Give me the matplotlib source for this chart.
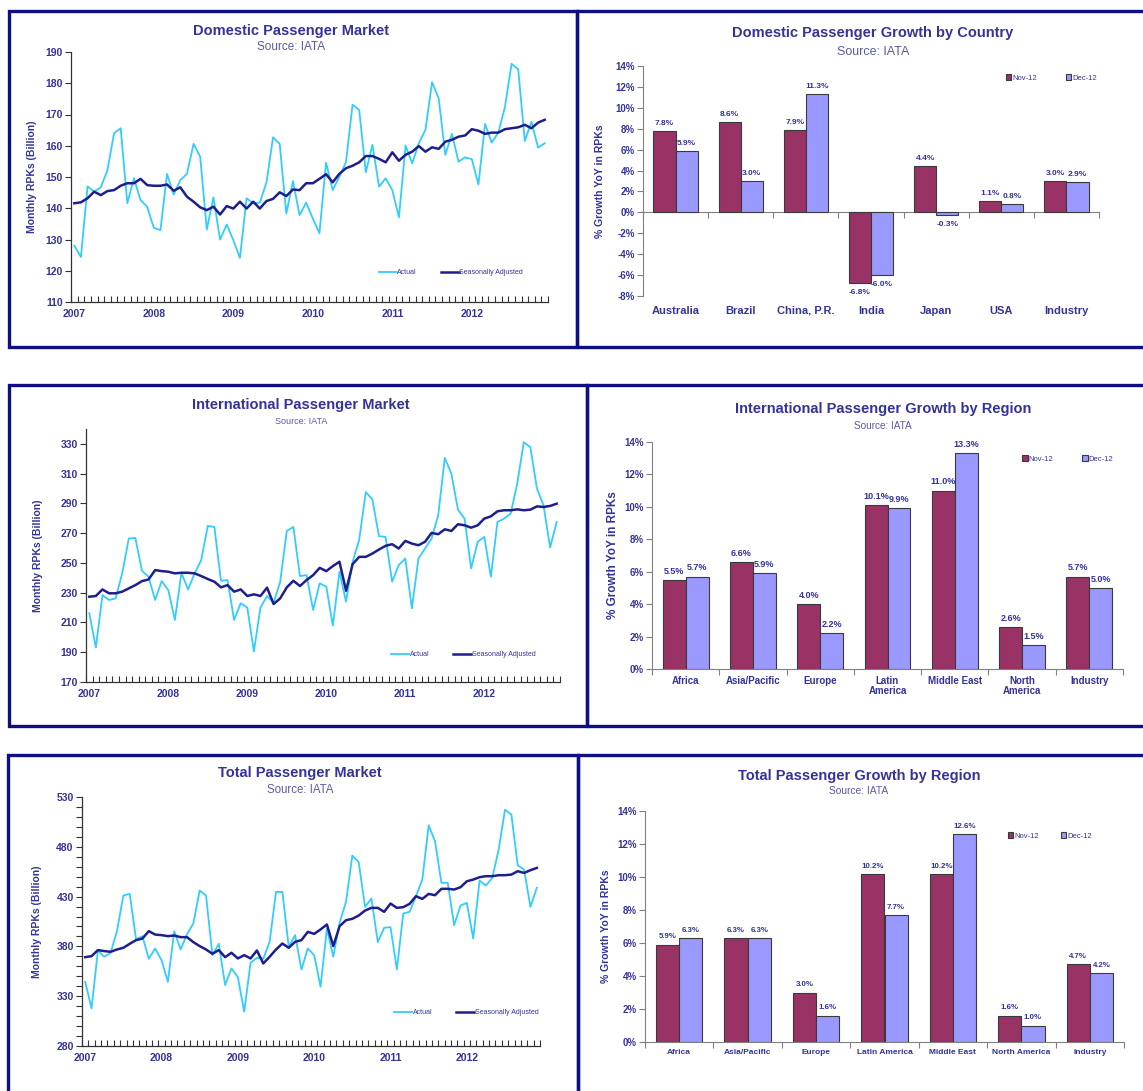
import matplotlib
matplotlib.use('Agg')
import matplotlib.pyplot as plt
import matplotlib.transforms as mtrans
from matplotlib.patches import Rectangle
from matplotlib.ticker import MultipleLocator, FuncFormatter
import numpy as np

plt.rcParams['font.family'] = ['Liberation Sans', 'DejaVu Sans']

# ---------------- data ----------------
years = ['2007', '2008', '2009', '2010', '2011', '2012']

dom_actual = [128.0, 124.4, 147.0, 145.3, 146.7, 152.2, 164.0, 165.6, 141.6, 149.6, 142.6, 140.5,
              133.7, 133.0, 151.0, 144.4, 149.0, 151.0, 160.6, 156.5, 133.2, 143.5, 130.0, 134.8,
              129.8, 124.1, 143.2, 141.6, 141.8, 148.2, 162.7, 160.6, 138.3, 148.7, 137.8, 141.8,
              136.7, 132.0, 154.6, 145.8, 150.1, 154.7, 173.1, 171.5, 151.5, 160.3, 146.9, 149.6,
              145.8, 137.1, 160.1, 154.4, 160.8, 165.1, 180.3, 175.2, 157.1, 163.8, 154.9, 156.3,
              155.7, 147.6, 167.0, 161.0, 164.2, 172.4, 186.2, 184.5, 161.5, 167.7, 159.4, 160.8]
dom_sa = [141.6, 141.9, 143.2, 145.3, 144.2, 145.5, 145.8, 147.2, 148.0, 148.0, 149.4, 147.4,
          147.2, 147.2, 147.6, 145.6, 146.7, 143.7, 142.1, 140.3, 139.4, 140.5, 138.0, 140.7,
          139.9, 142.1, 139.9, 142.1, 139.9, 142.3, 143.0, 145.1, 143.9, 146.0, 145.8, 148.0,
          148.0, 149.4, 150.9, 148.3, 151.0, 152.8, 153.6, 154.7, 156.7, 156.7, 155.8, 154.7,
          157.9, 155.2, 157.1, 158.1, 159.9, 158.1, 159.5, 159.0, 161.3, 161.9, 162.9, 163.3,
          165.3, 164.8, 163.8, 164.2, 164.2, 165.3, 165.6, 165.9, 166.7, 165.6, 167.4, 168.3]

int_actual = [216.2, 193.2, 228.4, 225.1, 226.2, 243.0, 266.4, 266.8, 244.7, 240.7, 225.1, 237.8,
              231.8, 211.7, 243.4, 232.2, 243.0, 251.9, 274.9, 274.2, 238.0, 238.5, 211.7, 222.9,
              220.0, 190.5, 220.0, 227.8, 223.3, 237.4, 271.5, 274.2, 241.2, 241.8, 218.4, 236.3,
              234.0, 207.9, 244.1, 224.0, 250.8, 265.7, 297.6, 292.7, 268.0, 267.5, 237.4, 248.5,
              253.0, 219.5, 253.0, 259.7, 266.4, 282.0, 320.6, 309.9, 285.8, 279.8, 246.3, 264.2,
              267.5, 240.7, 277.5, 279.8, 283.1, 303.2, 331.1, 327.8, 299.9, 288.7, 260.4, 277.5]
int_sa = [227.3, 227.8, 232.2, 229.6, 229.6, 230.7, 232.9, 235.1, 237.8, 238.9, 245.2, 244.5,
          244.1, 243.0, 243.4, 243.4, 243.0, 241.2, 239.2, 237.4, 233.6, 235.1, 230.7, 232.2,
          227.8, 228.9, 227.8, 233.4, 222.4, 226.2, 233.6, 238.0, 234.5, 238.5, 241.8, 246.7,
          244.5, 247.9, 250.8, 231.3, 249.2, 254.1, 254.1, 256.3, 259.0, 261.5, 262.6, 259.7,
          264.8, 263.0, 261.9, 264.2, 270.2, 269.3, 272.6, 271.5, 276.0, 275.3, 273.7, 275.3,
          279.8, 281.3, 284.7, 285.4, 285.4, 286.0, 285.4, 285.8, 288.0, 287.6, 288.3, 289.8]

tot_actual = [344.5, 317.8, 375.9, 369.6, 373.6, 395.3, 431.1, 432.7, 387.0, 390.3, 367.6, 377.9,
              366.2, 344.5, 395.3, 376.9, 392.0, 403.0, 436.1, 431.1, 371.2, 382.6, 341.2, 357.9,
              349.2, 314.4, 363.6, 368.6, 367.6, 384.6, 434.7, 434.7, 379.6, 391.3, 356.9, 377.9,
              371.2, 339.5, 398.0, 369.6, 403.7, 424.7, 471.2, 464.5, 419.7, 428.1, 384.3, 398.7,
              399.3, 356.9, 413.0, 414.7, 430.4, 447.1, 501.6, 485.5, 443.8, 443.8, 401.3, 421.0,
              423.7, 387.9, 446.1, 441.1, 448.8, 477.2, 517.3, 512.3, 461.5, 457.1, 419.7, 438.8]
tot_sa = [369.2, 370.2, 376.3, 375.3, 374.6, 376.9, 378.6, 382.6, 386.3, 387.9, 395.3, 391.9,
          391.3, 390.3, 390.9, 389.3, 389.3, 384.3, 380.3, 376.9, 372.6, 376.3, 369.2, 373.6,
          367.9, 371.2, 367.9, 375.9, 362.9, 369.6, 376.9, 382.9, 378.6, 384.6, 386.3, 394.6,
          392.6, 397.0, 402.0, 380.3, 400.3, 406.3, 407.7, 411.0, 416.0, 418.7, 418.7, 414.7,
          423.0, 418.7, 419.4, 422.7, 430.4, 427.7, 432.7, 431.4, 437.8, 437.8, 437.1, 439.4,
          445.4, 447.1, 449.5, 450.5, 450.5, 451.5, 451.5, 452.1, 455.5, 453.8, 456.5, 458.8]

dom_countries = ['Australia', 'Brazil', 'China, P.R.', 'India', 'Japan', 'USA', 'Industry']
dom_nov = [7.8, 8.6, 7.9, -6.8, 4.4, 1.1, 3.0]
dom_dec = [5.9, 3.0, 11.3, -6.0, -0.3, 0.8, 2.9]

int_regions = ['Africa', 'Asia/Pacific', 'Europe', 'Latin\nAmerica', 'Middle East', 'North\nAmerica', 'Industry']
int_nov = [5.5, 6.6, 4.0, 10.1, 11.0, 2.6, 5.7]
int_dec = [5.7, 5.9, 2.2, 9.9, 13.3, 1.5, 5.0]

tot_regions = ['Africa', 'Asia/Pacific', 'Europe', 'Latin America', 'Middle East', 'North America', 'Industry']
tot_nov = [5.9, 6.3, 3.0, 10.2, 10.2, 1.6, 4.7]
tot_dec = [6.3, 6.3, 1.6, 7.7, 12.6, 1.0, 4.2]

series_names = ['Nov-12', 'Dec-12']

# ---------------- style ----------------
W, H = 1143, 1091
NAVY_TXT = '#333399'
SUB_TXT = '#5a5aa6'
C_ACT = '#33CCFF'
C_SA = '#1E1E8C'
C_NOV = '#993366'
C_DEC = '#9999FF'
BORDER = '#0F0F85'

fig = plt.figure(figsize=(W / 100, H / 100), dpi=100)


def add_ax(x0, y0, x1, y1):
    return fig.add_axes([x0 / W, 1 - y1 / H, (x1 - x0) / W, (y1 - y0) / H])


def ftext(x, y, s, **kw):
    fig.text(x / W, 1 - y / H, s, ha='center', va='center', **kw)


# panel borders
for (x0, y0, x1, y1) in [(9, 11, 577, 347), (577, 11, 1152, 347),
                         (9, 385, 587, 726), (587, 385, 1152, 726),
                         (8, 755, 578, 1100), (578, 755, 1152, 1100)]:
    fig.add_artist(Rectangle((x0 / W, 1 - y1 / H), (x1 - x0) / W, (y1 - y0) / H,
                             transform=fig.transFigure, fill=False,
                             edgecolor=BORDER, linewidth=2.4, clip_on=False))


def line_chart(box, actual, sa, ylim, ystep, minor, title, tpos, sub_y, sub_fs,
               ylabel_x, leg_anchor, xlab_pad):
    ax = add_ax(*box)
    n = len(actual)
    x = np.arange(n) + 0.5
    ax.plot(x, actual, color=C_ACT, lw=1.3, label='Actual')
    ax.plot(x, sa, color=C_SA, lw=1.8, label='Seasonally Adjusted')
    ax.set_xlim(0, n)
    ax.set_ylim(*ylim)
    for s in ('top', 'right'):
        ax.spines[s].set_visible(False)
    for s in ('left', 'bottom'):
        ax.spines[s].set_color('#333333')
        ax.spines[s].set_linewidth(0.9)
    ax.set_xticks(np.arange(0, n + 1))
    ax.set_xticklabels([])
    ax.set_xticks(np.arange(len(years)) * 12 + 0.5, minor=True)
    ax.set_xticklabels(years, minor=True)
    ax.tick_params(axis='x', which='major', direction='in', length=4, width=0.8, color='#333333')
    ax.tick_params(axis='x', which='minor', length=0, pad=xlab_pad, labelsize=7.5,
                   labelcolor=NAVY_TXT)
    ax.set_yticks(np.arange(ylim[0], ylim[1] + 0.01, ystep))
    if minor:
        ax.yaxis.set_minor_locator(MultipleLocator(minor))
    ax.tick_params(axis='y', which='both', direction='out', length=4, width=0.8,
                   color='#333333', pad=2, labelsize=7.5, labelcolor=NAVY_TXT)
    for lab in ax.get_xticklabels(minor=True) + ax.get_yticklabels():
        lab.set_fontweight('bold')
    leg = ax.legend(ncol=2, frameon=False, loc='center left', bbox_to_anchor=leg_anchor,
                    fontsize=5, handlelength=2.6, handletextpad=0.1, columnspacing=3.4,
                    borderaxespad=0, borderpad=0)
    for t in leg.get_texts():
        t.set_color(NAVY_TXT)
    ftext(tpos[0], tpos[1], title, fontsize=10.5, fontweight='bold', color=NAVY_TXT)
    ftext(tpos[0], sub_y, 'Source: IATA', fontsize=sub_fs, color=SUB_TXT)
    yc = (box[1] + box[3]) / 2
    ftext(ylabel_x, yc, 'Monthly RPKs (Billion)', rotation=90, fontsize=7.5,
          fontweight='bold', color=NAVY_TXT)
    return ax


def bar_chart(box, cats, nov, dec, ylim, title, tpos, sub_y, sub_fs, ylabel_x, ylabel_fs,
              cat_fs, cat_off, val_fs, leg_anchor, colspace):
    ax = add_ax(*box)
    n = len(cats)
    x = np.arange(n)
    w = 0.34
    b1 = ax.bar(x - w / 2, nov, w, color=C_NOV, edgecolor='#3a3a3a', linewidth=0.8,
                label=series_names[0])
    b2 = ax.bar(x + w / 2, dec, w, color=C_DEC, edgecolor='#3a3a3a', linewidth=0.8,
                label=series_names[1])
    for bars, vals in ((b1, nov), (b2, dec)):
        for r, v in zip(bars, vals):
            ax.annotate(f'{v:.1f}%', (r.get_x() + r.get_width() / 2, v),
                        xytext=(0, 3 if v >= 0 else -4), textcoords='offset points',
                        ha='center', va='bottom' if v >= 0 else 'top',
                        fontsize=val_fs, fontweight='bold', color=NAVY_TXT)
    ax.set_xlim(-0.5, n - 0.5)
    ax.set_ylim(*ylim)
    for s in ('top', 'right'):
        ax.spines[s].set_visible(False)
    ax.spines['left'].set_color('#808080')
    ax.spines['bottom'].set_color('#808080')
    ax.spines['bottom'].set_position(('data', 0))
    ax.spines['bottom'].set_zorder(0.5)
    ax.set_xticks(np.arange(n + 1) - 0.5)
    ax.set_xticklabels([])
    ax.tick_params(axis='x', direction='out', length=4, width=0.8, color='#808080')
    ax.yaxis.set_major_locator(MultipleLocator(2))
    ax.yaxis.set_major_formatter(FuncFormatter(lambda v, p: f'{v:.0f}%'))
    ax.tick_params(axis='y', direction='out', length=4, width=0.8, color='#808080',
                   pad=2, labelsize=7, labelcolor=NAVY_TXT)
    for lab in ax.get_yticklabels():
        lab.set_fontweight('bold')
    trans = mtrans.blended_transform_factory(ax.transData, ax.transAxes)
    for i, c in enumerate(cats):
        ax.annotate(c, (x[i], 0), xycoords=trans, xytext=(0, -cat_off),
                    textcoords='offset points', ha='center', va='top',
                    fontsize=cat_fs, fontweight='bold', color=NAVY_TXT,
                    linespacing=1.05, annotation_clip=False)
    leg = ax.legend(ncol=2, frameon=False, loc='center left', bbox_to_anchor=leg_anchor,
                    fontsize=5.5, handlelength=0.7, handleheight=0.7, handletextpad=0.15,
                    columnspacing=colspace, borderaxespad=0, borderpad=0)
    for t in leg.get_texts():
        t.set_color(NAVY_TXT)
    ftext(tpos[0], tpos[1], title, fontsize=10.5, fontweight='bold', color=NAVY_TXT)
    ftext(tpos[0], sub_y, 'Source: IATA', fontsize=sub_fs, color=SUB_TXT)
    yc = (box[1] + box[3]) / 2
    ftext(ylabel_x, yc, '% Growth YoY in RPKs', rotation=90, fontsize=ylabel_fs,
          fontweight='bold', color=NAVY_TXT)
    return ax


# ---- line charts ----
line_chart((71, 52, 548, 302), dom_actual, dom_sa, (110, 190), 10, None,
           'Domestic Passenger Market', (291, 31), 47, 8.5, 32, (0.645, 0.116), 5)
line_chart((86, 429, 560, 682), int_actual, int_sa, (170, 340), 20, None,
           'International Passenger Market', (301, 405), 421, 6.5, 38, (0.643, 0.107), 5)
line_chart((82, 797, 540, 1046), tot_actual, tot_sa, (280, 530), 50, 10,
           'Total Passenger Market', (300, 773), 790, 8.3, 37, (0.681, 0.133), 5)

# ---- bar charts ----
bar_chart((643, 66, 1099, 296), dom_countries, dom_nov, dom_dec, (-8, 14),
          'Domestic Passenger Growth by Country', (873, 33), 52, 9, 600, 7.5,
          8, 7, 6, (0.796, 0.948), 3.8)
bar_chart((652, 442, 1123, 669), int_regions, int_nov, int_dec, (0, 14),
          'International Passenger Growth by Region', (883, 409), 426, 7.2, 613, 8.5,
          7, 5, 6.5, (0.786, 0.925), 3.8)
bar_chart((645, 811, 1124, 1042), tot_regions, tot_nov, tot_dec, (0, 14),
          'Total Passenger Growth by Region', (859, 776), 791, 7.4, 606, 7.5,
          6, 5, 5.7, (0.758, 0.892), 2.8)

fig.savefig('out.png', dpi=100)
